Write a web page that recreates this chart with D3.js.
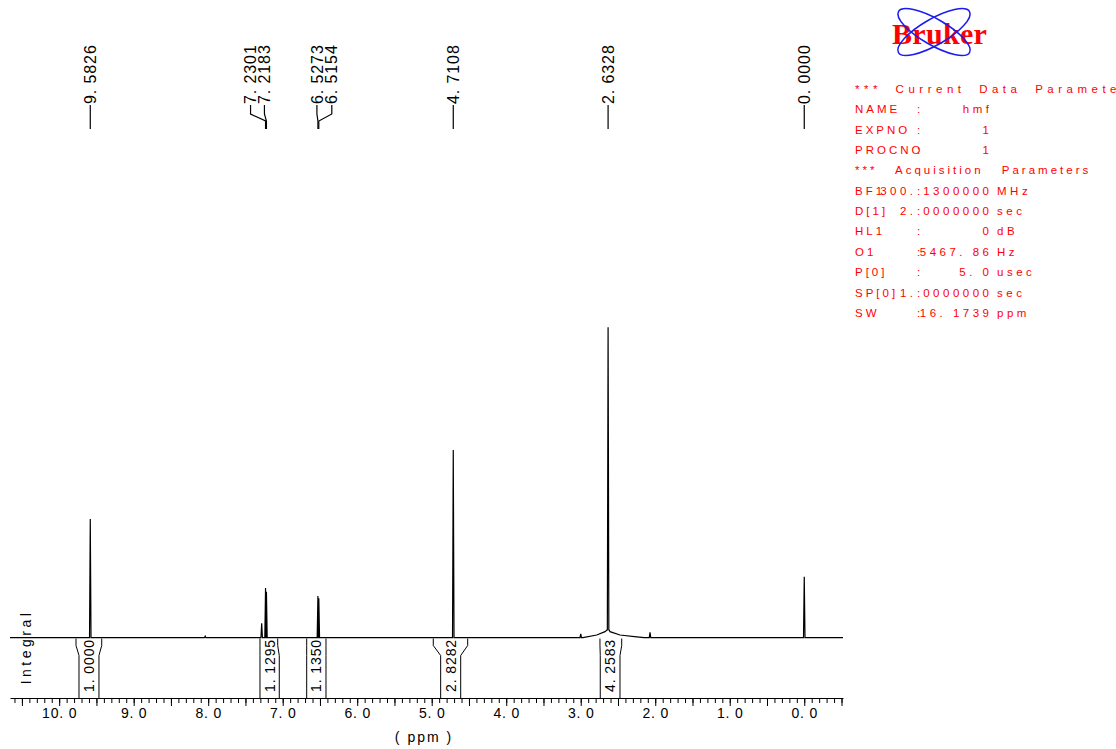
<!DOCTYPE html>
<html>
<head>
<meta charset="utf-8">
<script src="https://cdn.jsdelivr.net/npm/d3@7"></script>
<style>
body { margin: 0; background: #fff; }
svg { display: block; font-family: "Liberation Sans", Arial, sans-serif; }
</style>
</head>
<body>
<svg width="1116" height="749"></svg>
<script>
// peak list (ppm, relative intensity, tallest = 100)
var peakShifts  = [9.5826, 8.04, 7.282, 7.2301, 7.2183, 6.5273, 6.5154, 4.7108, 3.00, 2.6328, 2.07, 0.0000];
var peakHeights = [39.2,   0.5,  4.8,   16.4,   15.2,   13.8,   13.0,   62.0,   1.3,  100,    1.8,  20.1];

// broad background under the 2.63 signal
var bgPpm = [10.66, 2.97, 2.786, 2.674, 2.645, 2.62, 2.607, 2.473, 2.249, 2.15, -0.52];
var bgInt = [0,     0,    0.9,   2.0,   2.6,   2.6,  2.0,   0.9,   0.3,   0,    0];

// labelled peaks
var labelShifts = [9.5826, 7.2301, 7.2183, 6.5273, 6.5154, 4.7108, 2.6328, 0.0000];

// integrals: value, outer / inner limits (ppm)
var integralValues = [1.0000, 1.1295, 1.1350, 2.8282, 4.2583];
var intOuterLeft   = [9.774, 7.305, 6.678, 4.979, 2.742];
var intInnerLeft   = [9.734, 7.305, 6.678, 4.880, 2.738];
var intInnerRight  = [9.466, 7.046, 6.419, 4.611, 2.473];
var intOuterRight  = [9.429, 7.067, 6.419, 4.517, 2.450];

// parameter block
var paramNames  = ["*** Current Data Parameters", "NAME", "EXPNO", "PROCNO", "*** Acquisition Parameters",
                   "BF1", "D[1]", "HL1", "O1", "P[0]", "SP[0]", "SW"];
var paramValues = ["", "hmf", "1", "1", "", "300.1300000", "2.0000000", "0", "5467.86", "5.0", "1.0000000", "16.1739"];
var paramUnits  = ["", "", "", "", "", "MHz", "sec", "dB", "Hz", "usec", "sec", "ppm"];

var spaced = function(s) { return s.replace(".", ". "); };

function main() {
    var svg = d3.select("svg");

    var x = d3.scaleLinear().domain([10.66, -0.52]).range([10, 843]);
    var y = d3.scaleLinear().domain([0, 100]).range([637.7, 335]);
    var axisY = 698;
    var bg = d3.scaleLinear().domain(bgPpm).range(bgInt).clamp(true);

    // spectrum trace
    var pts = bgPpm.map(function(p, i) { return [p, bgInt[i]]; });
    var w = 0.01;
    peakShifts.forEach(function(s, i) {
        pts.push([s + w, bg(s + w)]);
        pts.push([s, bg(s) + peakHeights[i]]);
        pts.push([s - w, bg(s - w)]);
    });
    pts.sort(function(a, b) { return b[0] - a[0]; });

    svg.append("path")
        .attr("d", d3.line().x(function(d) { return x(d[0]); }).y(function(d) { return y(d[1]); })(pts))
        .attr("fill", "none")
        .attr("stroke", "#000")
        .attr("stroke-width", 1.2);

    // x axis
    var minorTicks = d3.range(106, -6, -1).map(function(d) { return d / 10; });
    var majorTicks = d3.range(21, -2, -1).map(function(d) { return d / 2; });

    var gx = svg.append("g").attr("transform", "translate(0," + axisY + ")");
    gx.call(d3.axisBottom(x).tickValues(minorTicks).tickSize(5).tickSizeOuter(0).tickFormat(""));
    var gx2 = svg.append("g").attr("transform", "translate(0," + axisY + ")");
    gx2.call(d3.axisBottom(x).tickValues(majorTicks).tickSize(8).tickPadding(2)
        .tickFormat(function(d) { return Number.isInteger(d) ? spaced(d3.format(".1f")(d)) : ""; }));
    gx2.select(".domain").remove();
    svg.selectAll(".tick line").attr("stroke", "#000");
    svg.selectAll(".domain").attr("stroke", "#000");
    gx2.selectAll("text")
        .attr("font-family", "Liberation Sans, Arial, sans-serif")
        .attr("font-size", "14px")
        .attr("letter-spacing", "0.8")
        .attr("fill", "#000");

    svg.append("text")
        .attr("x", 424).attr("y", 742)
        .attr("text-anchor", "middle")
        .attr("font-size", "14px")
        .attr("letter-spacing", "2")
        .text("( ppm )");

    // integrals
    var top = 638.5;
    integralValues.forEach(function(v, i) {
        var oL = x(intOuterLeft[i]), iL = x(intInnerLeft[i]);
        var iR = x(intInnerRight[i]), oR = x(intOuterRight[i]);
        svg.append("path")
            .attr("d", "M" + oL + "," + top + "V" + (top + 7) + "L" + iL + "," + (top + 17) + "V" + axisY +
                       "M" + oR + "," + top + "V" + (top + 7) + "L" + iR + "," + (top + 17) + "V" + axisY)
            .attr("fill", "none")
            .attr("stroke", "#000")
            .attr("stroke-width", 1);
        svg.append("text")
            .attr("transform", "translate(" + ((iL + iR) / 2) + ",692) rotate(-90)")
            .attr("dy", "0.35em")
            .attr("font-size", "14px")
            .attr("letter-spacing", "0.9")
            .text(spaced(d3.format(".4f")(v)));
    });

    svg.append("text")
        .attr("transform", "translate(31,647) rotate(-90)")
        .attr("text-anchor", "middle")
        .attr("font-size", "14px")
        .attr("letter-spacing", "3.5")
        .text("Integral");

    // peak labels (dx spreads crowded labels)
    var labelDx = [0, -15, -2, -1, 13, 0, 0, 0];
    labelShifts.forEach(function(s, i) {
        var px = x(s), lx = px + labelDx[i];
        svg.append("path")
            .attr("d", "M" + lx + ",105V114L" + px + ",121V129")
            .attr("fill", "none")
            .attr("stroke", "#000")
            .attr("stroke-width", 1.2);
        svg.append("text")
            .attr("transform", "translate(" + lx + ",104) rotate(-90)")
            .attr("dy", "0.35em")
            .attr("font-size", "16px")
            .attr("letter-spacing", "0.9")
            .text(spaced(d3.format(".4f")(s)));
    });

    // Bruker logo
    var logo = svg.append("g");
    logo.append("text")
        .attr("x", 892).attr("y", 44)
        .attr("font-family", "Liberation Serif, Times New Roman, serif")
        .attr("font-weight", "bold")
        .attr("font-size", "30px")
        .attr("letter-spacing", "0.3")
        .attr("fill", "#ff0000")
        .text("Bruker");
    [30, -30].forEach(function(a) {
        logo.append("ellipse")
            .attr("cx", 0).attr("cy", 0).attr("rx", 41).attr("ry", 13)
            .attr("transform", "translate(934,32) rotate(" + a + ")")
            .attr("fill", "none")
            .attr("stroke", "#1c1cf0")
            .attr("stroke-width", 1.5);
    });

    // parameter block
    var headerLs = [4.5, 3], headerWs = [6, 12];
    var pg = svg.append("g").attr("fill", "#ff0000").attr("font-size", "11.5px");
    var h = 0;
    paramNames.forEach(function(n, i) {
        var yy = 93 + i * 20.35;
        var header = n.indexOf("***") === 0;
        pg.append("text")
            .attr("x", 855).attr("y", yy)
            .attr("letter-spacing", header ? headerLs[h] : 3)
            .attr("word-spacing", header ? headerWs[h] : 0)
            .text(n);
        if (header) { h++; return; }
        pg.append("text").attr("x", 917).attr("y", yy).text(":");
        pg.append("text")
            .attr("x", 992.5).attr("y", yy)
            .attr("text-anchor", "end")
            .attr("letter-spacing", "3.5")
            .text(spaced(paramValues[i]));
        pg.append("text")
            .attr("x", 997).attr("y", yy)
            .attr("letter-spacing", "3.5")
            .text(paramUnits[i]);
    });
}
main();
</script>
</body>
</html>
